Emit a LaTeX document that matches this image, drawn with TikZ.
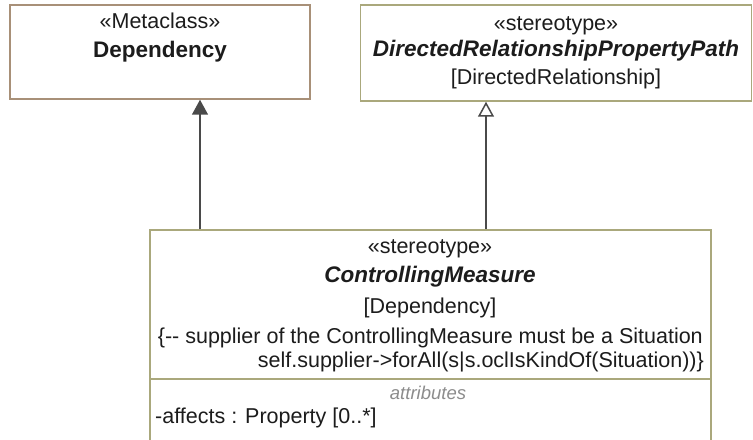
\documentclass[tikz,border=0pt]{standalone}
\usepackage{fontspec}
\setmainfont{Liberation Sans}
\usetikzlibrary{arrows.meta}
\definecolor{tanb}{HTML}{A89078}
\definecolor{oliv}{HTML}{AAA87C}
\definecolor{ink}{HTML}{1C1C1C}
\definecolor{conn}{HTML}{4A4A4A}
\definecolor{attrgray}{HTML}{8C8C8C}
\begin{document}
\begin{tikzpicture}[x=1bp,y=-1bp,
  box/.style={draw, line width=1.5bp, fill=white, inner sep=0, rectangle},
  txt/.style={inner sep=0, text=ink, font=\fontsize{21.5bp}{24bp}\selectfont, text height=15.5bp, text depth=4.5bp},
  bname/.style={txt, font=\fontsize{22.5bp}{26bp}\selectfont\bfseries},
  biname/.style={txt, font=\fontsize{22.5bp}{26bp}\selectfont\bfseries\itshape},
  comp/.style={inner sep=0, text=attrgray, font=\fontsize{18.5bp}{21bp}\selectfont\itshape, text height=13bp, text depth=4bp},
  conline/.style={draw=conn, line width=1.5bp},
  generalization/.style={conline, -{Triangle[length=15bp, width=16bp, fill=conn]}},
  extension/.style={conline, -{Triangle[open, length=15bp, width=16bp, fill=white]}}
]
\useasboundingbox (0,0) rectangle (753,440);
\clip (0,0) rectangle (753,440);

% boxes
\node[box, draw=tanb, minimum width=300bp, minimum height=94bp] (dep) at (160,52) {};
\node[box, draw=oliv, minimum width=391bp, minimum height=96bp] (drpp) at (556,53) {};
\node[box, draw=oliv, minimum width=561bp, minimum height=260bp] (cm) at (430.5,360) {};
\draw[oliv, line width=1.5bp] (cm.west |- 0,379) coordinate (sepl) -- (cm.east |- 0,379) coordinate (sepr);

% Dependency metaclass
\node[txt] (depst) at (160,23) {«Metaclass»};
\node[bname] (depname) at (160,52) {Dependency};

% DirectedRelationshipPropertyPath stereotype
\node[txt] (drppst) at (556,25) {«stereotype»};
\node[biname] (drppname) at (556,51) {DirectedRelationshipPropertyPath};
\node[txt] (drppbase) at (556,79) {[DirectedRelationship]};

% ControllingMeasure stereotype
\node[txt] (cmst) at (430,248) {«stereotype»};
\node[biname] (cmname) at (430,277) {ControllingMeasure};
\node[txt] (cmbase) at (430,308) {[Dependency]};
\node[txt, anchor=east] (cons1) at (703,338) {\{-{}- supplier of the ControllingMeasure must be a Situation};
\node[txt, anchor=east] (cons2) at (704,362) {self.supplier-{}>forAll(s|s.oclIsKindOf(Situation))\}};
\node[comp] (attrlbl) at (428,395) {attributes};
\node[txt, anchor=west] (attr1) at (155,418) {-affects : Property [0..*]};

% connectors
\draw[generalization] (200,0 |- cm.north) -- (200,0 |- dep.south);
\draw[extension] (486,0 |- cm.north) -- (486,0 |- drpp.south);
\end{tikzpicture}
\end{document}
